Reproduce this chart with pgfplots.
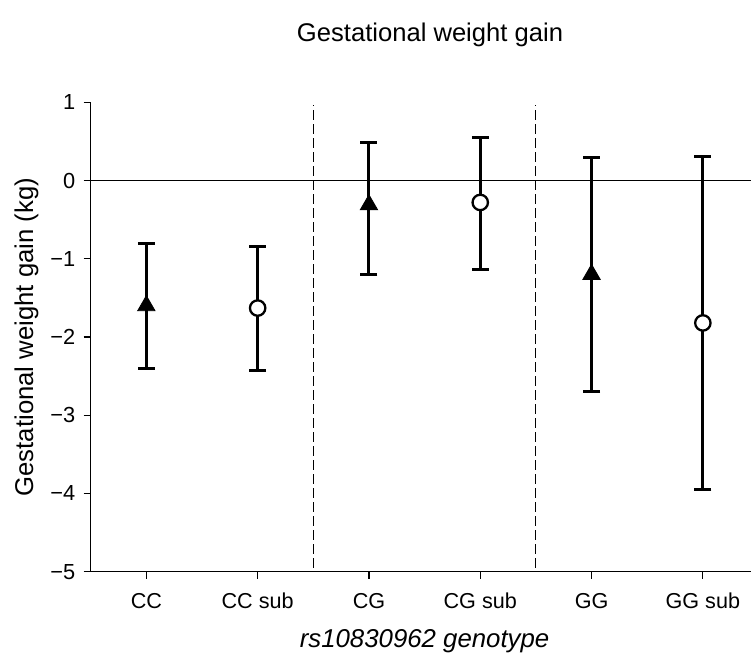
\documentclass[border=0pt]{standalone}
\usepackage{fontspec}
\setmainfont{Liberation Sans}
\usepackage{pgfplots}
\pgfplotsset{compat=1.18}
\begin{document}
\begin{tikzpicture}
\begin{axis}[
  at={(0pt,0pt)}, anchor=south west,
  scale only axis, width=667.8pt, height=469.4pt,
  xmin=0.5, xmax=6.5, ymin=-5, ymax=1,
  axis x line*=bottom, axis y line*=left,
  axis line style={line width=1.4pt, black},
  xtick={1,2,3,4,5,6},
  xticklabels={CC,CC sub,CG,CG sub,GG,GG sub},
  ytick={-5,-4,-3,-2,-1,0,1},
  yticklabels={\mbox{−5},\mbox{−4},\mbox{−3},\mbox{−2},\mbox{−1},\mbox{0},\mbox{1}},
  tick align=outside, major tick length=7pt,
  tick style={line width=1.2pt, black},
  xticklabel style={font=\fontsize{21.6}{24}\selectfont, anchor=base, yshift=-30pt},
  yticklabel style={font=\fontsize{21.8}{24}\selectfont, anchor=east, xshift=-5pt},
  xlabel={\itshape rs10830962 genotype},
  xlabel style={font=\fontsize{25.8}{28}\selectfont, at={(axis description cs:0.5,-0.1620)}, anchor=base},
  ylabel={Gestational weight gain (kg)},
  ylabel style={font=\fontsize{25.7}{28}\selectfont, at={(axis description cs:-0.0864,0.5)}, anchor=base, rotate=0},
  title={Gestational weight gain},
  title style={font=\fontsize{25.6}{28}\selectfont, at={(axis description cs:0.5081,1.1157)}, anchor=base},
  clip=false,
]
\addplot[line width=1.6pt, black, forget plot] coordinates {(0.5,0) (6.5,0)};
\addplot[line width=1pt, black, dash pattern=on 10pt off 4pt, forget plot] coordinates {(2.5,-4.95) (2.5,0.97)};
\addplot[line width=1pt, black, dash pattern=on 10pt off 4pt, forget plot] coordinates {(4.5,-4.95) (4.5,0.97)};
% triangles (main)
\addplot[only marks, mark=triangle*, mark size=10pt,
  mark options={fill=black, draw=black, line width=0.8pt},
  error bars/.cd, y dir=both, y explicit,
  error bar style={line width=3pt, black},
  error mark options={rotate=90, line width=3pt, mark size=8.5pt, black}]
  coordinates {
  (1,-1.60) += (0,0.79) -= (0,0.80)
  (3,-0.31) += (0,0.80) -= (0,0.89)
  (5,-1.20) += (0,1.49) -= (0,1.50)
  };
% circles (sub)
\addplot[only marks, mark=*, mark size=7.7pt,
  mark options={fill=white, draw=black, line width=2.3pt},
  error bars/.cd, y dir=both, y explicit,
  error bar style={line width=3pt, black},
  error mark options={rotate=90, line width=3pt, mark size=8.5pt, black}]
  coordinates {
  (2,-1.63) += (0,0.79) -= (0,0.80)
  (4,-0.28) += (0,0.83) -= (0,0.86)
  (6,-1.82) += (0,2.13) -= (0,2.13)
  };
\end{axis}
\pgfresetboundingbox
\path[use as bounding box] (-90.7pt,-87.3pt) rectangle (660.3pt,571.7pt);
\end{tikzpicture}
\end{document}
